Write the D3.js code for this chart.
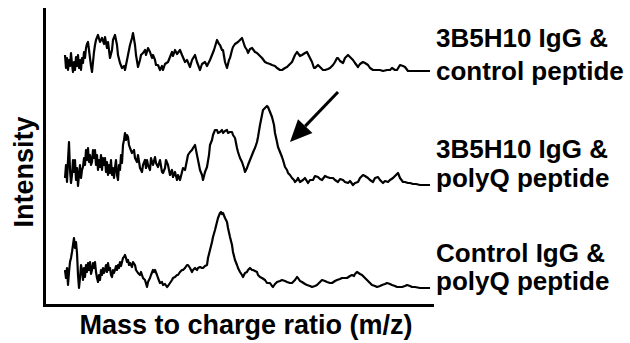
<!DOCTYPE html>
<html>
<head>
<meta charset="utf-8">
<script src="https://cdn.jsdelivr.net/npm/d3@7"></script>
<style>
  body { margin: 0; background: #fff; }
  svg text { font-family: "Liberation Sans", Arial, sans-serif; font-weight: bold; fill: #000; }
</style>
</head>
<body>
<svg id="spectra"></svg>
<script>
const yLabel = 'Intensity';
const xLabel = 'Mass to charge ratio (m/z)';
const traceLabels = [
  ['3B5H10 IgG &', 'control peptide'],
  ['3B5H10 IgG &', 'polyQ peptide'],
  ['Control IgG &', 'polyQ peptide']
];

// m/z channel and intensity (arbitrary units)
const mzControlPep = [
  65,66,67,68,69,70,71,72,73,74, 75,76,77,78,79,80,81,82,83,84,
  85,86,87,88,89,90,91,92,93,94, 95,96,98,100,102,104,105,107,108,110,
  112,113,115,117,118,120,122,124,125,127, 128,130,132,133,135,136,138,140,141,143,
  145,146,148,150,152,153,155,156,158,160, 162,163,165,168,170,172,173,175,177,180,
  182,185,187,190,192,195,197,200,202,205, 207,210,212,214,217,219,220,222,223,225,
  227,229,230,232,233,235,238,240,242,244, 245,247,248,250,252,255,257,260,262,265,
  267,270,272,275,277,280,282,285,287,290, 292,295,297,300,302,305,307,310,312,314,
  315,318,320,323,325,328,330,333,335,337, 338,340,343,345,348,350,353,355,358,360,
  363,365,368,370,373,376,380,383,387,390, 392,395,397,400,403,405,408,412,420,430
];
const intControlPep = [
  17,4,14,2,12,6,19,8,0,10, 2,15,6,17,4,12,2,14,9,20,
  14,24,28,30,22,14,6,0,10,20, 27,32,37,30,34,28,35,24,30,14,
  22,32,37,27,17,9,4,6,2,12, 17,27,34,39,27,17,5,12,17,19,
  22,17,24,20,14,17,12,7,7,2, 6,2,8,10,15,20,16,22,18,22,
  17,10,12,5,12,17,10,2,8,10, 6,12,17,22,32,28,27,22,22,10,
  4,12,14,22,25,28,30,32,34,28, 25,22,19,23,24,20,19,16,14,10,
  9,8,7,6,4,2,2,4,5,8, 10,17,20,16,17,19,20,14,10,4,
  4,7,5,2,2,3,4,7,10,14, 14,11,9,14,17,15,12,9,5,8,
  10,9,7,4,2,2,2,1,2,2, 4,2,2,7,6,5,1,1,1,1
];

const mzPolyQ = [
  65,66,67,68,69,70,71,72,73,74, 75,76,77,78,79,80,81,82,83,84,
  85,86,87,88,89,90,91,92,93,94, 95,96,97,98,99,100,101,102,103,104,
  105,106,107,108,109,110,111,112,113,114, 115,116,117,118,119,120,121,122,123,124,
  125,126,127,128,129,130,132,134,135,137, 138,140,142,143,145,146,147,148,150,151,
  153,155,156,158,160,162,163,165,166,168, 170,172,173,175,177,178,180,182,183,185,
  187,188,190,192,193,195,196,198,200,202, 203,205,207,209,210,212,213,215,217,218,
  220,222,223,225,227,228,230,232,233,235, 237,238,240,242,244,245,247,248,250,252,
  254,255,257,258,260,262,263,265,267,268, 270,272,274,275,277,278,280,282,283,285,
  287,288,290,292,294,295,297,298,300,303, 305,308,310,313,315,318,320,322,325,327,
  330,333,335,338,340,343,345,348,350,353, 355,358,360,363,365,368,370,373,375,378,
  380,383,385,388,390,393,395,398,400,403, 405,408,410,413,416,420,425,430
];
const intPolyQ = [
  8,21,4,26,44,16,3,11,26,14, 26,6,18,0,11,21,8,16,19,28,
  21,36,26,38,24,31,21,24,36,28, 36,21,31,16,26,19,31,16,28,21,
  28,14,24,11,21,13,26,11,18,8, 18,26,11,6,21,16,31,23,41,46,
  53,46,51,49,41,38,33,36,28,24, 31,18,14,21,26,18,26,21,16,28,
  21,29,23,19,26,14,13,18,26,21, 11,16,9,14,6,11,6,14,18,16,
  26,31,34,36,38,41,36,26,16,11, 6,14,19,31,41,46,51,56,56,53,
  54,56,53,55,56,53,54,54,51,48, 38,34,28,24,18,14,18,21,26,31,
  36,38,44,49,61,71,76,78,80,79, 74,69,61,53,44,39,34,29,26,19,
  16,13,11,8,6,4,6,8,4,6, 8,3,6,6,10,9,7,6,10,9,
  8,8,6,4,7,6,4,3,5,1, 3,4,8,11,10,8,6,4,8,9,
  6,3,5,4,6,8,10,13,8,4, 4,3,3,2,2,1,1,1
];

const mzControlIgG = [
  65,66,67,68,69,70,71,72,73,74, 75,76,77,78,79,80,81,82,83,84,
  85,86,87,88,89,90,91,92,93,94, 95,96,97,98,99,100,101,102,103,104,
  105,106,107,108,109,110,111,112,113,114, 115,116,117,118,119,120,121,122,123,124,
  125,126,127,128,129,130,132,133,135,136, 138,140,141,143,145,147,148,150,151,153,
  154,155,157,158,160,162,163,165,167,168, 170,172,173,175,177,178,180,182,183,185,
  187,188,190,192,193,195,197,198,200,202, 203,205,207,208,210,212,213,215,217,218,
  220,221,222,223,225,227,228,230,232,233, 235,237,238,240,242,243,245,247,248,250,
  252,253,255,257,258,260,262,265,267,270, 272,273,275,277,280,282,285,287,290,292,
  295,297,298,300,302,305,307,310,312,315, 317,320,322,325,327,330,332,335,337,340,
  342,345,347,350,352,354,355,357,360,362, 365,367,370,372,375,377,380,382,385,387,
  390,392,395,397,400,402,405,407,410,412, 415,420,425,430
];
const intControlIgG = [
  19,11,21,4,17,27,31,37,44,51, 41,47,36,14,1,11,24,19,9,21,
  12,24,17,26,19,27,15,19,26,21, 27,17,11,7,14,9,19,14,21,16,
  19,24,17,26,19,21,14,12,19,16, 19,23,19,24,21,27,23,27,31,32,
  34,31,27,29,24,26,22,27,24,19, 16,14,17,11,9,2,7,11,14,19,
  17,19,14,11,6,7,4,5,2,3, 6,9,11,12,14,14,17,19,19,21,
  24,24,21,17,19,21,19,21,22,21, 21,23,24,31,39,47,52,59,67,71,
  76,77,75,76,71,67,61,52,44,37, 29,24,21,17,14,12,16,17,19,21,
  19,19,18,17,14,12,11,9,6,6, 3,2,5,7,8,9,8,7,6,6,
  9,12,11,8,7,5,4,3,2,3, 4,7,9,8,7,6,6,8,9,10,
  11,11,11,13,14,13,15,17,15,14, 11,9,6,4,3,2,3,4,5,6,
  5,4,3,2,2,2,3,4,3,2, 2,1,1,1
];

const traces = [
  { mz: mzControlPep, intensity: intControlPep },
  { mz: mzPolyQ, intensity: intPolyQ },
  { mz: mzControlIgG, intensity: intControlIgG }
];

// arrow pointing at the polyQ peak shoulder, in (m/z, intensity of middle trace)
const arrowFrom = [338, 94];
const arrowTo = [290, 44];

const width = 630, height = 343;
const plot = { left: 44, right: 432, top: 9, bottom: 305 };
const baselines = [72, 186, 289];

const svg = d3.select('#spectra').attr('width', width).attr('height', height);

const x = d3.scaleLinear().domain([44, 432]).range([plot.left, plot.right]);
const yScales = baselines.map(b => d3.scaleLinear().domain([0, 100]).range([b, b - 100]));

// axes without ticks, thick lines
const yAxisScale = d3.scaleLinear().domain([0, 1]).range([plot.bottom, plot.top]);
svg.append('g')
  .attr('transform', `translate(${plot.left},0)`)
  .call(d3.axisLeft(yAxisScale).ticks(0).tickSizeOuter(0))
  .select('.domain')
  .attr('stroke-width', 3)
  .attr('stroke-linecap', 'square');

svg.append('g')
  .attr('transform', `translate(0,${plot.bottom})`)
  .call(d3.axisBottom(x).ticks(0).tickSizeOuter(0))
  .select('.domain')
  .attr('stroke-width', 3)
  .attr('stroke-linecap', 'square');

traces.forEach((t, i) => {
  const y = yScales[i];
  const line = d3.line()
    .x(d => x(d[0]))
    .y(d => y(d[1]));
  svg.append('path')
    .datum(d3.zip(t.mz, t.intensity))
    .attr('fill', 'none')
    .attr('stroke', '#000')
    .attr('stroke-width', 2.2)
    .attr('stroke-linejoin', 'round')
    .attr('d', line);
});

// arrow
const ay = yScales[1];
const x0 = x(arrowFrom[0]), y0 = ay(arrowFrom[1]);
const x1 = x(arrowTo[0]), y1 = ay(arrowTo[1]);
const len = Math.hypot(x1 - x0, y1 - y0);
const ux = (x1 - x0) / len, uy = (y1 - y0) / len;
const headLen = 22, headHalf = 10;
const bx = x1 - ux * headLen, by = y1 - uy * headLen;
svg.append('line')
  .attr('x1', x0).attr('y1', y0)
  .attr('x2', bx).attr('y2', by)
  .attr('stroke', '#000')
  .attr('stroke-width', 3);
svg.append('path')
  .attr('d', `M${x1},${y1}L${bx - uy * headHalf},${by + ux * headHalf}L${bx + uy * headHalf},${by - ux * headHalf}Z`)
  .attr('fill', '#000');

// labels on the right
const labelTops = [[47, 80], [158, 187], [262, 290]];
traceLabels.forEach((lines, i) => {
  lines.forEach((s, j) => {
    svg.append('text')
      .attr('x', 436)
      .attr('y', labelTops[i][j])
      .attr('font-size', 26)
      .text(s);
  });
});

svg.append('text')
  .attr('transform', `translate(33,172) rotate(-90)`)
  .attr('text-anchor', 'middle')
  .attr('font-size', 27)
  .text(yLabel);

svg.append('text')
  .attr('x', 246)
  .attr('y', 334)
  .attr('text-anchor', 'middle')
  .attr('font-size', 27)
  .text(xLabel);
</script>
</body>
</html>
